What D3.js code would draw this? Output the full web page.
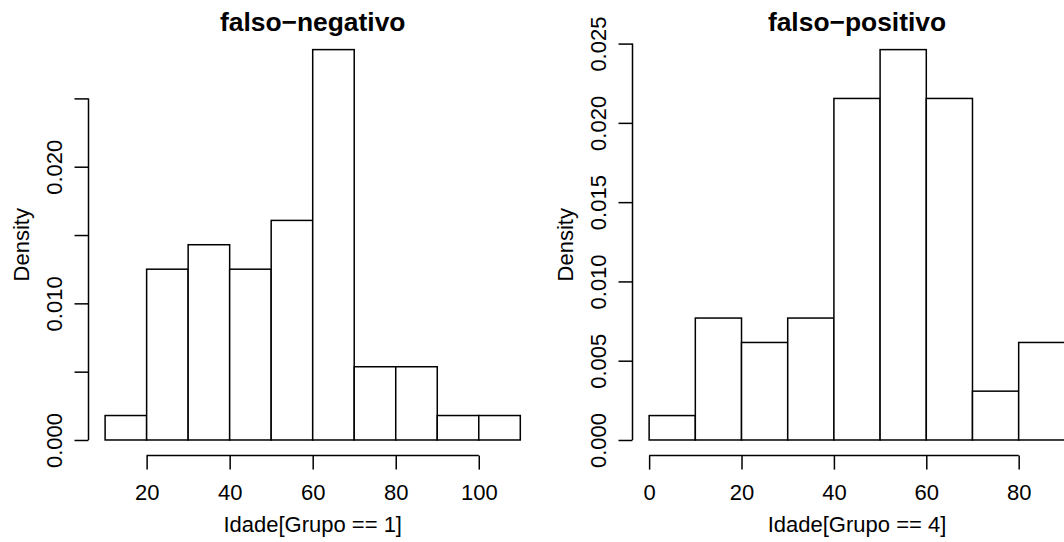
<!DOCTYPE html>
<html>
<head>
<meta charset="utf-8">
<script src="https://cdn.jsdelivr.net/npm/d3@7"></script>
<style>
  html, body { margin: 0; padding: 0; background: #fff; }
  svg { display: block; font-family: "Liberation Sans", Arial, Helvetica, sans-serif; }
</style>
</head>
<body>
<div id="chart"></div>
<script>
// falso-negativo : Idade[Grupo == 1], n = 56
const breaksNeg = [10, 20, 30, 40, 50, 60, 70, 80, 90, 100, 110];
const densityNeg = [0.00179, 0.0125, 0.01429, 0.0125, 0.01607, 0.02857, 0.00536, 0.00536, 0.00179, 0.00179];
const xTicksNeg = [20, 40, 60, 80, 100];
const yTicksNeg = [0, 0.005, 0.010, 0.015, 0.020, 0.025];
const yLabelsNeg = ["0.000", "", "0.010", "", "0.020", ""];

// falso-positivo : Idade[Grupo == 4], n = 65
const breaksPos = [0, 10, 20, 30, 40, 50, 60, 70, 80, 90];
const densityPos = [0.00154, 0.00769, 0.00615, 0.00769, 0.02154, 0.02462, 0.02154, 0.00308, 0.00615];
const xTicksPos = [0, 20, 40, 60, 80];
const yTicksPos = [0, 0.005, 0.010, 0.015, 0.020, 0.025];
const yLabelsPos = ["0.000", "0.005", "0.010", "0.015", "0.020", "0.025"];

const panels = [
  { title: "falso\u2212negativo", xlab: "Idade[Grupo == 1]", breaks: breaksNeg, density: densityNeg,
    xTicks: xTicksNeg, yTicks: yTicksNeg, yLabels: yLabelsNeg, left: 88.5, right: 536.9 },
  { title: "falso\u2212positivo", xlab: "Idade[Grupo == 4]", breaks: breaksPos, density: densityPos,
    xTicks: xTicksPos, yTicks: yTicksPos, yLabels: yLabelsPos, left: 632.5, right: 1081.5 }
];

const W = 1064, H = 542;
const plotTop = 34, plotBottom = 455.6;
const lw = 1.5;

const svg = d3.select("#chart").append("svg")
  .attr("width", W).attr("height", H)
  .attr("viewBox", [0, 0, W, H]);

// R style: extend ranges by 4% on each side
function pad(lo, hi) {
  const d = (hi - lo) * 0.04;
  return [lo - d, hi + d];
}

panels.forEach(p => {
  const bins = p.density.map((d, i) => ({ x0: p.breaks[i], x1: p.breaks[i + 1], d }));

  const x = d3.scaleLinear()
    .domain(pad(p.breaks[0], p.breaks[p.breaks.length - 1]))
    .range([p.left, p.right]);
  const y = d3.scaleLinear()
    .domain(pad(0, d3.max(p.density)))
    .range([plotBottom, plotTop]);

  const g = svg.append("g");

  // bars
  g.selectAll("rect.bar")
    .data(bins)
    .join("rect")
    .attr("class", "bar")
    .attr("x", b => x(b.x0))
    .attr("width", b => x(b.x1) - x(b.x0))
    .attr("y", b => y(b.d))
    .attr("height", b => y(0) - y(b.d))
    .attr("fill", "#fff")
    .attr("stroke", "#000")
    .attr("stroke-width", lw);

  // x axis
  const xa = g.append("g")
    .attr("transform", `translate(0,${plotBottom})`)
    .call(d3.axisBottom(x).tickValues(p.xTicks).tickSize(14).tickFormat(d3.format("d")));
  xa.select(".domain").remove();
  xa.append("line")
    .attr("x1", x(p.xTicks[0])).attr("x2", x(p.xTicks[p.xTicks.length - 1]))
    .attr("stroke", "#000").attr("stroke-width", lw);
  xa.selectAll(".tick line").attr("stroke", "#000").attr("stroke-width", lw);
  xa.selectAll(".tick text")
    .attr("y", 44.5).attr("dy", null)
    .attr("fill", "#000")
    .style("font-size", "22px");

  // y axis
  const ya = g.append("g")
    .attr("transform", `translate(${p.left},0)`)
    .call(d3.axisLeft(y).tickValues(p.yTicks).tickSize(14).tickFormat((d, i) => p.yLabels[i]));
  ya.select(".domain").remove();
  ya.append("line")
    .attr("y1", y(p.yTicks[0])).attr("y2", y(p.yTicks[p.yTicks.length - 1]))
    .attr("stroke", "#000").attr("stroke-width", lw);
  ya.selectAll(".tick line").attr("stroke", "#000").attr("stroke-width", lw);
  ya.selectAll(".tick text")
    .attr("x", null).attr("dy", null)
    .attr("transform", "translate(-26.5,0) rotate(-90)")
    .attr("text-anchor", "middle")
    .attr("fill", "#000")
    .style("font-size", "22px");

  const cx = (p.left + p.right) / 2;

  // title
  g.append("text")
    .attr("x", cx).attr("y", 30.5)
    .attr("text-anchor", "middle")
    .style("font-size", "26.4px").style("font-weight", "bold")
    .text(p.title);

  // x label
  g.append("text")
    .attr("x", cx).attr("y", 531.5)
    .attr("text-anchor", "middle")
    .style("font-size", "22px")
    .text(p.xlab);

  // y label
  g.append("text")
    .attr("transform", `translate(${p.left - 60},${(plotTop + plotBottom) / 2}) rotate(-90)`)
    .attr("text-anchor", "middle")
    .style("font-size", "22px")
    .text("Density");
});
</script>
</body>
</html>
